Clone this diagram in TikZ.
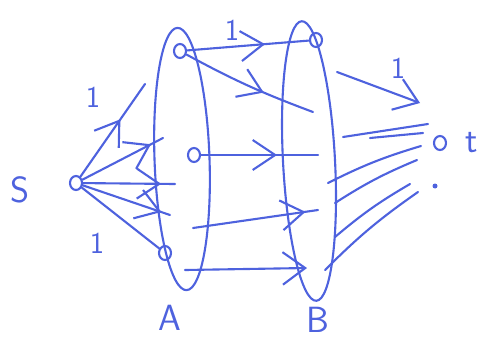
\documentclass[tikz,border=0pt]{standalone}
\usetikzlibrary{arrows.meta,shapes.geometric,decorations.markings}
\definecolor{pen}{RGB}{78,98,222}
\tikzset{
  vtx/.style={ellipse,draw=pen,line width=1.2pt,minimum width=2.4mm,minimum height=2.8mm,inner sep=0pt},
  group/.style={ellipse,draw=pen,line width=1.2pt,inner sep=0pt},
  link/.style={draw=pen,line width=1.2pt,line cap=round},
  midtip/.style={postaction={decorate},decoration={markings,
    mark=at position #1 with {\arrow{Straight Barb[length=4.5mm,width=6mm]}}}},
  endtip/.style={-{Straight Barb[length=4.5mm,width=6.5mm]}},
  lbl/.style={text=pen,font=\sffamily\huge},
  one/.style={text=pen,font=\sffamily\LARGE},
}
\begin{document}
\begin{tikzpicture}[x=0.02cm,y=-0.02cm]
  \useasboundingbox (0,0) rectangle (502,338);
  % the two sets
  \node[group,minimum width=11mm,minimum height=52.5mm,rotate=2] (A) at (182,159) {};
  \node[group,minimum width=10.4mm,minimum height=56mm,rotate=3] (B) at (309,161) {};
  \node[lbl] (labA) at (170,318) {A};
  \node[lbl] (labB) at (318,320) {B};
  \node[lbl] (labS) at (20,190) {S};
  \node[lbl] (labT) at (472,143) {t};

  % vertices
  \node[vtx] (s) at (76,183) {};
  \node[vtx] (a1) at (180,51) {};
  \node[vtx] (a2) at (194,155) {};
  \node[vtx] (a3) at (165,253) {};
  \node[vtx] (b1) at (316,40) {};
  \node[vtx] (t) at (440,143) {};
  \node[circle,fill=pen,inner sep=0pt,minimum size=1mm] (spot) at (435,186) {};

  % free ends
  \coordinate (up) at (145,84);
  \coordinate (pa) at (163,138);
  \coordinate (pb) at (175,184);
  \coordinate (pc) at (170,215);
  \coordinate (q1) at (313,112);
  \coordinate (q2) at (318,155);
  \coordinate (p1) at (193,228);
  \coordinate (q3) at (318,210);
  \coordinate (p2) at (185,270);
  \coordinate (q4) at (307,268);

  % s into A
  \draw[link,midtip=0.62] (s) -- (up);
  \draw[link,midtip=0.85] (s) -- (pa);
  \draw[link,midtip=0.85] (s) -- (pb);
  \draw[link,midtip=0.9] (s) -- (pc);
  \draw[link] (s) -- (a3);
  \node[one] (c1) at (93,97) {1};
  \node[one] (c2) at (97,243) {1};

  % A into B
  \draw[link,midtip=0.64] (a1) -- (b1);
  \draw[link,midtip=0.62] (a1) to[bend right=4] (q1);
  \draw[link,midtip=0.65] (a2) -- (q2);
  \draw[link,midtip=0.9] (p1) -- (q3);
  \draw[link,endtip] (p2) -- (q4);
  \node[one] (c3) at (232,30) {1};

  % B into t
  \coordinate (r0) at (337,72);  \coordinate (e0) at (420,103);
  \coordinate (r1) at (343,137); \coordinate (e1) at (428,124);
  \coordinate (r2) at (370,138); \coordinate (e2) at (423,133);
  \coordinate (r3) at (328,183); \coordinate (e3) at (421,146);
  \coordinate (r4) at (335,203); \coordinate (e4) at (417,160);
  \coordinate (r5) at (335,237); \coordinate (e5) at (410,184);
  \coordinate (r6) at (325,270); \coordinate (e6) at (418,192);
  \draw[link,endtip] (r0) -- (e0);
  \draw[link] (r1) -- (e1);
  \draw[link] (r2) -- (e2);
  \draw[link] (r3) to[bend left=5] (e3);
  \draw[link] (r4) to[bend left=5] (e4);
  \draw[link] (r5) to[bend left=5] (e5);
  \draw[link] (r6) to[bend left=5] (e6);
  \node[one] (c4) at (398,68) {1};
\end{tikzpicture}
\end{document}
